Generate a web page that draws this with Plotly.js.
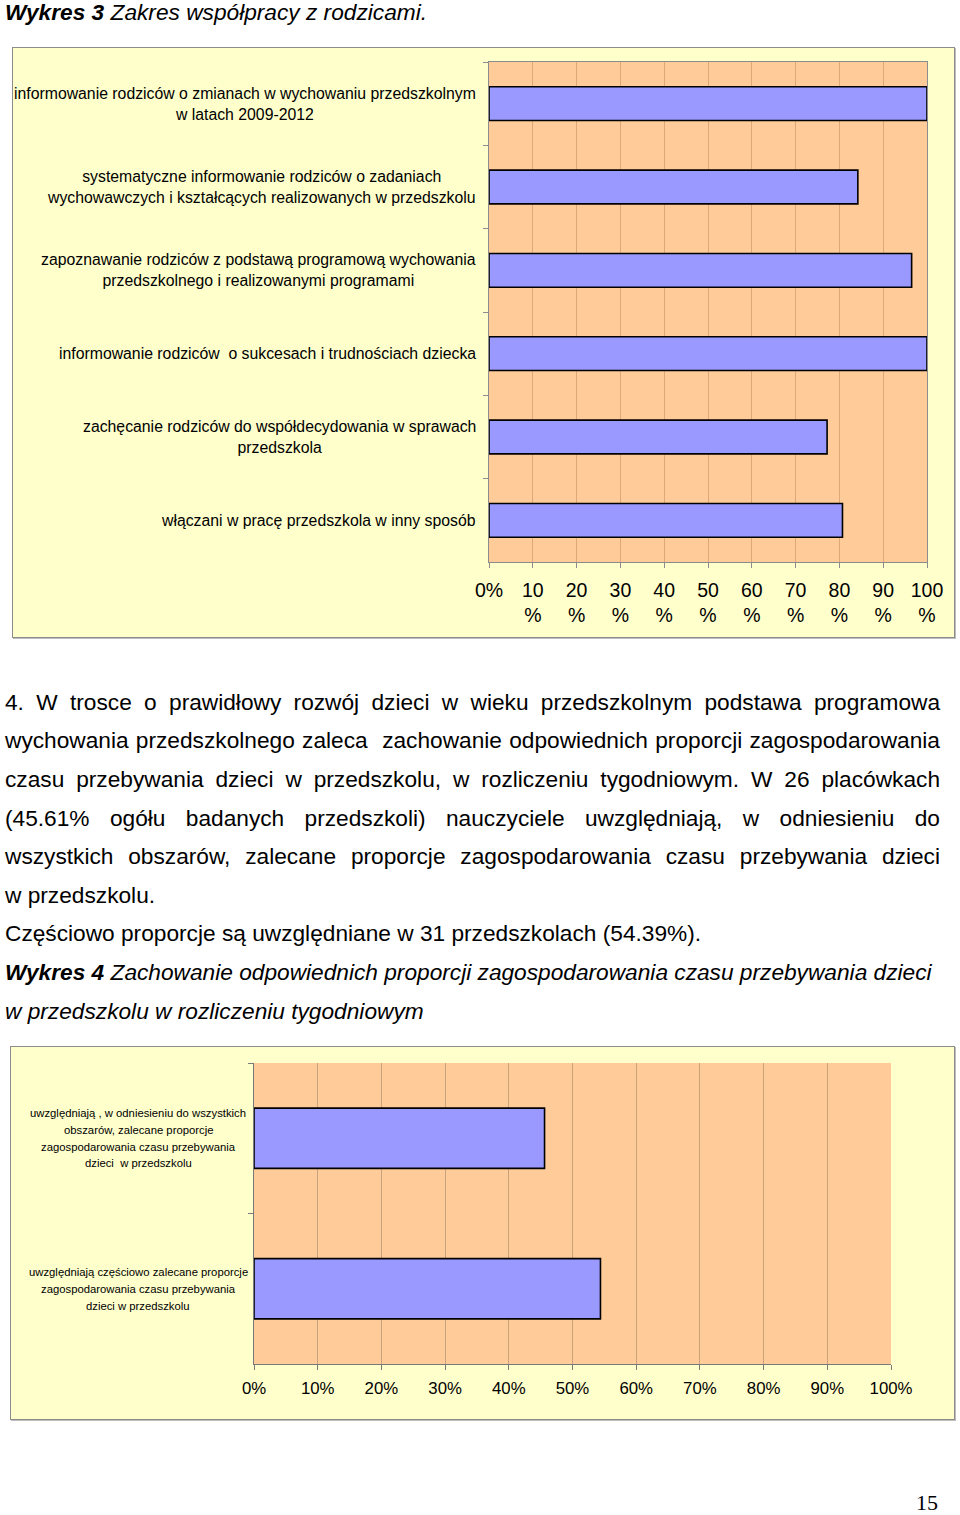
<!DOCTYPE html>
<html>
<head>
<meta charset="utf-8">
<script src="https://cdn.plot.ly/plotly-3.0.1.min.js"></script>
<style>
  html, body { margin: 0; padding: 0; background: #ffffff; }
  body { width: 960px; height: 1515px; position: relative; overflow: hidden;
         font-family: "Liberation Sans", Arial, sans-serif; color: #000; }
  .ln { position: absolute; left: 5px; width: 935px; font-size: 22.7px; line-height: normal; white-space: nowrap; }
  .just { text-align: justify; text-align-last: justify; white-space: normal; }
  .it { font-style: italic; }
  .box { position: absolute; border: 1px solid #8c8c8c; box-shadow: 1px 1px 0 #bdbdbd; }
  #page { position: absolute; left: 916px; top: 1490px; font-family: "Liberation Serif", serif; font-size: 22px; }
</style>
</head>
<body>
<div class="ln it" style="top:-0.6px;"><b>Wykres 3</b> Zakres współpracy z rodzicami.</div>

<div class="box" style="left:12px; top:47px;"><div id="chart1"></div></div>

<div class="ln just" style="top:688.7px;">4. W trosce o prawidłowy rozwój dzieci w wieku przedszkolnym podstawa programowa</div>
<div class="ln just" style="top:727.3px;">wychowania przedszkolnego zaleca &nbsp;zachowanie odpowiednich proporcji zagospodarowania</div>
<div class="ln just" style="top:765.9px;">czasu przebywania dzieci w przedszkolu, w rozliczeniu tygodniowym. W 26 placówkach</div>
<div class="ln just" style="top:804.5px;">(45.61% ogółu badanych przedszkoli) nauczyciele uwzględniają, w odniesieniu do</div>
<div class="ln just" style="top:843.1px;">wszystkich obszarów, zalecane proporcje zagospodarowania czasu przebywania dzieci</div>
<div class="ln" style="top:881.7px;">w przedszkolu.</div>
<div class="ln" style="top:920.3px;">Częściowo proporcje są uwzględniane w 31 przedszkolach (54.39%).</div>
<div class="ln it" style="top:958.9px;"><b>Wykres 4</b> Zachowanie odpowiednich proporcji zagospodarowania czasu przebywania dzieci</div>
<div class="ln it" style="top:997.5px;">w przedszkolu w rozliczeniu tygodniowym</div>

<div class="box" style="left:10px; top:1046px;"><div id="chart2"></div></div>

<div id="page">15</div>

<script>
// ---- Data: Wykres 3 ----
const categories3 = [
  "informowanie rodziców o zmianach w wychowaniu przedszkolnym<br>w latach 2009-2012",
  "systematyczne informowanie rodziców o zadaniach<br>wychowawczych i kształcących realizowanych w przedszkolu",
  "zapoznawanie rodziców z podstawą programową wychowania<br>przedszkolnego i realizowanymi programami",
  "informowanie rodziców  o sukcesach i trudnościach dziecka",
  "zachęcanie rodziców do współdecydowania w sprawach<br>przedszkola",
  "włączani w pracę przedszkola w inny sposób"
];
const values3 = [100, 84.21, 96.49, 100, 77.19, 80.70];
const tickVals = [0, 10, 20, 30, 40, 50, 60, 70, 80, 90, 100];
const tickText3 = ["0%", "10<br>%", "20<br>%", "30<br>%", "40<br>%", "50<br>%", "60<br>%", "70<br>%", "80<br>%", "90<br>%", "100<br>%"];

// ---- Data: Wykres 4 ----
const categories4 = [
  "uwzględniają , w odniesieniu do wszystkich<br>obszarów, zalecane proporcje<br>zagospodarowania czasu przebywania<br>dzieci  w przedszkolu",
  "uwzględniają częściowo zalecane proporcje<br>zagospodarowania czasu przebywania<br>dzieci w przedszkolu"
];
const values4 = [45.61, 54.39];
const tickText4 = ["0%", "10%", "20%", "30%", "40%", "50%", "60%", "70%", "80%", "90%", "100%"];

const FONT = "Liberation Sans, Arial, sans-serif";
const cfg = { staticPlot: true, displayModeBar: false };

// ---- Chart 1 ----
const keys3 = categories3.map((c, i) => "c" + i);
const ann3 = categories3.map((c, i) => ({
  xref: "paper", x: 0, xanchor: "right", xshift: -11,
  yref: "y", y: keys3[i], yanchor: "middle",
  text: c, showarrow: false, align: "center",
  font: { family: FONT, size: 15.8, color: "#000" }
}));

Plotly.newPlot("chart1", [{
  type: "bar", orientation: "h",
  x: values3, y: keys3,
  marker: { color: "#9999FF", line: { color: "#000000", width: 1.6 } },
  hoverinfo: "none"
}], {
  width: 941, height: 589,
  margin: { l: 476, r: 27, t: 14, b: 75 },
  paper_bgcolor: "#FFFFCC", plot_bgcolor: "#FFCC99",
  bargap: 0.595, showlegend: false,
  font: { family: FONT, color: "#000" },
  xaxis: {
    range: [0, 100], tickvals: tickVals, ticktext: tickText3,
    showgrid: true, gridcolor: "#DFA878", gridwidth: 1,
    showline: true, linecolor: "#8c8c8c", linewidth: 1.2, mirror: true,
    ticks: "outside", ticklen: 5, tickcolor: "#8c8c8c",
    tickfont: { family: FONT, size: 19.5, color: "#000" },
    ticklabelstandoff: 5, zeroline: false, fixedrange: true
  },
  yaxis: {
    type: "category", categoryorder: "array", categoryarray: keys3,
    autorange: "reversed", showticklabels: false,
    showgrid: false, zeroline: false,
    showline: true, linecolor: "#8c8c8c", linewidth: 1.2, mirror: true,
    ticks: "outside", ticklen: 5, tickcolor: "#8c8c8c", tickson: "boundaries",
    fixedrange: true
  },
  annotations: ann3
}, cfg);

// ---- Chart 2 ----
const keys4 = categories4.map((c, i) => "d" + i);
const ann4 = [];
categories4.forEach((c, i) => {
  const lines = c.split("<br>");
  const n = lines.length;
  lines.forEach((t, j) => {
    ann4.push({
      xref: "paper", x: 0, xanchor: "center", xshift: -116,
      yref: "y", y: keys4[i], yanchor: "middle",
      yshift: ((n - 1) / 2 - j) * 16.8,
      text: t, showarrow: false,
      font: { family: FONT, size: 11.3, color: "#000" }
    });
  });
});

Plotly.newPlot("chart2", [{
  type: "bar", orientation: "h",
  x: values4, y: keys4,
  marker: { color: "#9999FF", line: { color: "#000000", width: 1.6 } },
  hoverinfo: "none"
}], {
  width: 943, height: 372,
  margin: { l: 243, r: 63, t: 16, b: 55 },
  paper_bgcolor: "#FFFFCC", plot_bgcolor: "#FFCC99",
  bargap: 0.6, showlegend: false,
  font: { family: FONT, color: "#000" },
  xaxis: {
    range: [0, 100], tickvals: tickVals, ticktext: tickText4,
    showgrid: true, gridcolor: "#C9A27E", gridwidth: 1,
    showline: true, linecolor: "#7a7a7a", linewidth: 1.2, mirror: false,
    ticks: "outside", ticklen: 5, tickcolor: "#7a7a7a",
    tickfont: { family: FONT, size: 16.8, color: "#000" },
    ticklabelstandoff: 4, zeroline: false, fixedrange: true
  },
  yaxis: {
    type: "category", categoryorder: "array", categoryarray: keys4,
    autorange: "reversed", showticklabels: false,
    showgrid: false, zeroline: false,
    showline: true, linecolor: "#7a7a7a", linewidth: 1.2,
    ticks: "outside", ticklen: 5, tickcolor: "#7a7a7a", tickson: "boundaries",
    fixedrange: true
  },
  annotations: ann4
}, cfg);
</script>
</body>
</html>
